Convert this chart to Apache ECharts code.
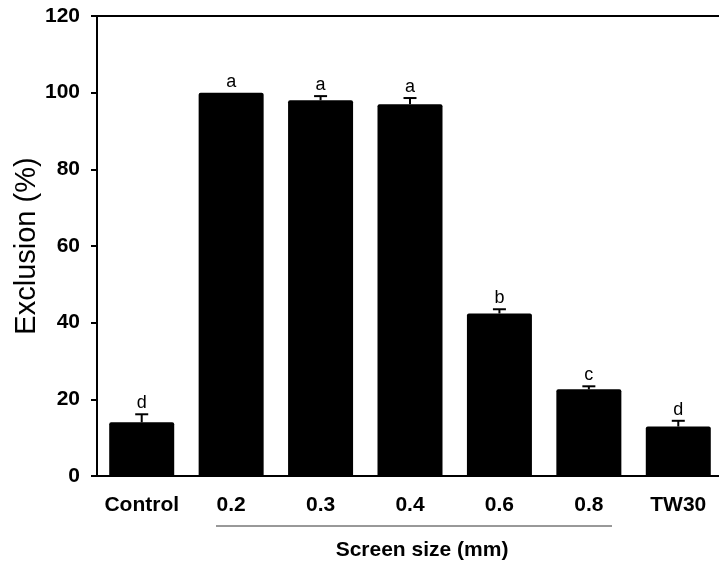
<!DOCTYPE html>
<html>
<head>
<meta charset="utf-8">
<script src="https://cdn.jsdelivr.net/npm/echarts@6/dist/echarts.min.js"></script>
<style>html,body{margin:0;padding:0;background:#fff}#c{width:719px;height:567px}</style>
</head>
<body>
<div id="c"></div>
<script>
const categories = ['Control', '0.2', '0.3', '0.4', '0.6', '0.8', 'TW30'];
const means = [14.0, 100.0, 98.0, 97.0, 42.4, 22.6, 12.9];
const errors = [2.1, 0.0, 1.1, 1.6, 1.1, 0.8, 1.5];
const letters = ['d', 'a', 'a', 'a', 'b', 'c', 'd'];
const yTicks = [0, 20, 40, 60, 80, 100, 120];

const chart = echarts.init(document.getElementById('c'), null, {renderer: 'canvas'});
const errData = categories.map((c, i) => [i, means[i], errors[i], letters[i]]);

chart.setOption({
  animation: false,
  backgroundColor: '#fff',
  grid: {left: 97, top: 16, width: 626, height: 460, outerBoundsMode: 'none', containLabel: false, show: true, borderColor: '#000', borderWidth: 2, backgroundColor: 'transparent'},
  xAxis: {
    type: 'category',
    data: categories,
    axisLine: {lineStyle: {color: '#000', width: 2}},
    axisTick: {alignWithLabel: true, length: 6, lineStyle: {color: '#000', width: 2}},
    axisLabel: {interval: 0, hideOverlap: false, color: '#000', fontFamily: 'Liberation Sans, Arial', fontWeight: 'bold', fontSize: 21, margin: 19}
  },
  yAxis: {
    type: 'value',
    min: yTicks[0], max: yTicks[yTicks.length - 1], interval: 20,
    name: 'Exclusion (%)',
    nameLocation: 'middle',
    nameGap: 56,
    nameMoveOverlap: false,
    nameTextStyle: {color: '#000', fontFamily: 'Liberation Sans, Arial', fontSize: 29},
    splitLine: {show: false},
    axisLine: {show: true, lineStyle: {color: '#000', width: 2}},
    axisTick: {show: true, length: 6, lineStyle: {color: '#000', width: 2}},
    axisLabel: {color: '#000', fontFamily: 'Liberation Sans, Arial', fontWeight: 'bold', fontSize: 21, margin: 17}
  },
  series: [
    {
      type: 'bar',
      data: means,
      barWidth: 65,
      itemStyle: {color: '#000', borderRadius: [2, 2, 0, 0]}
    },
    {
      type: 'custom',
      data: errData,
      z: 10,
      renderItem: function (params, api) {
        const i = api.value(0), m = api.value(1), e = api.value(2);
        const base = api.coord([i, m]);
        const top = api.coord([i, m + e]);
        const children = [];
        if (e > 0) {
          children.push({type: 'line', shape: {x1: base[0], y1: base[1], x2: top[0], y2: top[1]}, style: {stroke: '#000', lineWidth: 2}});
          children.push({type: 'line', shape: {x1: top[0] - 6.5, y1: top[1], x2: top[0] + 6.5, y2: top[1]}, style: {stroke: '#000', lineWidth: 2}});
        }
        children.push({type: 'text', style: {text: letters[params.dataIndex], x: top[0], y: top[1] - 2, align: 'center', verticalAlign: 'bottom', fill: '#000', font: '18px "Liberation Sans", Arial'}});
        return {type: 'group', children: children};
      }
    }
  ],
  graphic: [
    {type: 'line', shape: {x1: 216, y1: 526, x2: 612, y2: 526}, style: {stroke: '#333', lineWidth: 1}},
    {type: 'text', style: {text: 'Screen size (mm)', x: 422, y: 550, align: 'center', verticalAlign: 'middle', fill: '#000', font: 'bold 21px "Liberation Sans", Arial'}}
  ]
});
</script>
</body>
</html>
